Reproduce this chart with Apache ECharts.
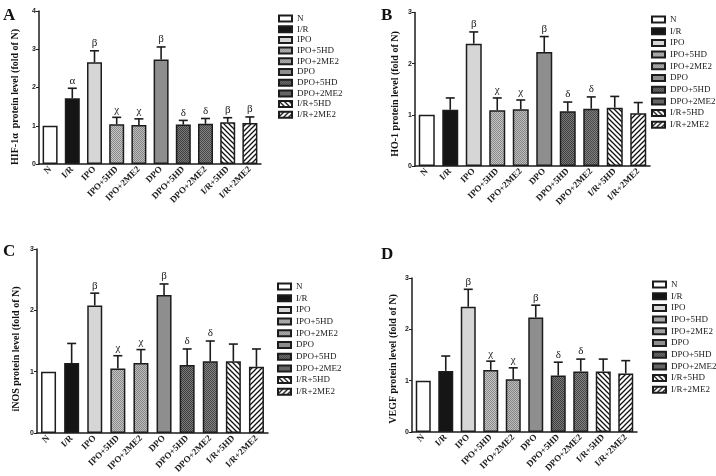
<!DOCTYPE html>
<html><head><meta charset="utf-8">
<script src="https://cdn.jsdelivr.net/npm/echarts@6/dist/echarts.min.js"></script>
<style>html,body{margin:0;padding:0;background:#fff}#c{width:716px;height:476px}</style>
</head><body><div id="c"></div>
<script>
// ---- data ----
const categories = ['N','I/R','IPO','IPO+5HD','IPO+2ME2','DPO','DPO+5HD','DPO+2ME2','I/R+5HD','I/R+2ME2'];
const hifMean   = [1.00,1.72,2.66,1.04,1.02,2.73,1.03,1.05,1.09,1.07];
const hifErrTop = [1.00,1.98,2.96,1.22,1.18,3.06,1.14,1.19,1.21,1.23];
const hoMean    = [1.00,1.10,2.39,1.09,1.11,2.23,1.07,1.12,1.14,1.03];
const hoErrTop  = [1.00,1.33,2.62,1.33,1.29,2.53,1.25,1.35,1.36,1.24];
const inosMean  = [1.00,1.14,2.08,1.05,1.14,2.25,1.11,1.17,1.17,1.08];
const inosErrTop= [1.00,1.46,2.28,1.26,1.36,2.43,1.37,1.50,1.45,1.37];
const vegfMean  = [1.00,1.19,2.44,1.21,1.03,2.23,1.10,1.18,1.18,1.14];
const vegfErrTop= [1.00,1.48,2.78,1.38,1.25,2.47,1.36,1.42,1.42,1.39];
const hifSig   = ['','α','β','χ','χ','β','δ','δ','β','β'];
const otherSig = ['','','β','χ','χ','β','δ','δ','',''];
const yMaxA = 4, yMaxOther = 3;
const yTitles = ['HIF-1α  protein level (fold of N)','HO-1 protein level (fold of N)','iNOS protein level (fold of N)','VEGF protein level (fold of N)'];
const panelLetters = ['A','B','C','D'];

// ---- styles ----
function checker(a,b){const c=document.createElement('canvas');c.width=2;c.height=2;const g=c.getContext('2d');g.fillStyle=a;g.fillRect(0,0,2,2);g.fillStyle=b;g.fillRect(0,0,1,1);g.fillRect(1,1,1,1);return {image:c,repeat:'repeat'};}
function stripes(dir){const s=5;const c=document.createElement('canvas');c.width=s;c.height=s;const g=c.getContext('2d');g.fillStyle='#fff';g.fillRect(0,0,s,s);g.strokeStyle='#111';g.lineWidth=1.3;g.beginPath();
  if(dir>0){g.moveTo(-1,s+1);g.lineTo(s+1,-1);g.moveTo(-2,2);g.lineTo(2,-2);g.moveTo(s-2,s+2);g.lineTo(s+2,s-2);}
  else{g.moveTo(-1,-1);g.lineTo(s+1,s+1);g.moveTo(s-2,-2);g.lineTo(s+2,2);g.moveTo(-2,s-2);g.lineTo(2,s+2);}
  g.stroke();return {image:c,repeat:'repeat'};}
const fills = ['#ffffff','#151515','#d6d6d6',checker('#c4c4c4','#8a8a8a'),checker('#bcbcbc','#858585'),'#8e8e8e',checker('#7a7a7a','#3e3e3e'),checker('#828282','#484848'),stripes(-1),stripes(1)];

const panels = [
  {mean:hifMean, err:hifErrTop, sig:hifSig, max:yMaxA, grid:{left:39,top:11,width:222,height:153}, bw:15, legend:{left:273,top:9,gap:1.7}, tpos:[15,97], lpos:[3,7]},
  {mean:hoMean, err:hoErrTop, sig:otherSig, max:yMaxOther, grid:{left:415,top:12.5,width:235,height:153.5}, bw:16, legend:{left:646,top:10,gap:2.7}, tpos:[395,94], lpos:[381,7]},
  {mean:inosMean, err:inosErrTop, sig:otherSig, max:yMaxOther, grid:{left:37,top:249,width:231,height:184}, bw:15, legend:{left:272,top:277,gap:2.7}, tpos:[16,349], lpos:[3,243]},
  {mean:vegfMean, err:vegfErrTop, sig:otherSig, max:yMaxOther, grid:{left:412,top:278,width:225,height:154}, bw:15, legend:{left:647,top:275,gap:2.7}, tpos:[393,359], lpos:[381,246]}
];

const ink = '#1c1c1c';
const option = {animation:false, backgroundColor:'#fff', grid:[], xAxis:[], yAxis:[], series:[], legend:[], graphic:[]};
panels.forEach((p,pi)=>{
  option.grid.push(Object.assign({containLabel:false}, p.grid));
  option.xAxis.push({gridIndex:pi, type:'category', data:categories,
    axisLine:{lineStyle:{color:ink,width:1.5}}, axisTick:{alignWithLabel:true,length:3,lineStyle:{color:ink,width:1}},
    axisLabel:{interval:0, rotate:45, fontSize:9, fontWeight:'bold', fontFamily:'Liberation Serif', color:ink, margin:4}});
  option.yAxis.push({gridIndex:pi, type:'value', min:0, max:p.max, interval:1,
    axisLine:{show:true,lineStyle:{color:ink,width:1.5}}, axisTick:{show:true,length:3,lineStyle:{color:ink,width:1}},
    axisLabel:{fontSize:7, fontWeight:'bold', fontFamily:'Liberation Sans', color:ink, margin:3}, splitLine:{show:false}});
  categories.forEach((c,ci)=>{
    option.series.push({type:'bar', name:c, xAxisIndex:pi, yAxisIndex:pi, stack:'s'+pi, barWidth:p.bw, silent:true,
      data:categories.map((_,k)=> k===ci ? p.mean[k] : '-'),
      itemStyle:{color:fills[ci], borderColor:ink, borderWidth:1.5}});
  });
  option.series.push({type:'custom', xAxisIndex:pi, yAxisIndex:pi, z:10, silent:true,
    data:categories.map((_,k)=>[k, p.mean[k], p.err[k]]),
    renderItem:(params, api)=>{
      const i = params.dataIndex;
      const b = api.coord([api.value(0), api.value(1)]);
      const t = api.coord([api.value(0), api.value(2)]);
      const ch = [];
      if (t[1] < b[1]-0.5) {
        ch.push({type:'line', shape:{x1:b[0],y1:b[1],x2:t[0],y2:t[1]}, style:{stroke:ink,lineWidth:1.6}});
        ch.push({type:'line', shape:{x1:t[0]-4.5,y1:t[1],x2:t[0]+4.5,y2:t[1]}, style:{stroke:ink,lineWidth:1.6}});
      }
      if (p.sig[i]) ch.push({type:'text', x:t[0], y:t[1]-2, style:{text:p.sig[i], fill:'#222', font:'11px "Liberation Serif"', align:'center', verticalAlign:'bottom', textAlign:'center', textVerticalAlign:'bottom'}});
      return {type:'group', children:ch};
    }});
  option.legend.push({data:categories, orient:'vertical', left:p.legend.left, top:p.legend.top, icon:'rect', itemWidth:13, itemHeight:6, itemGap:p.legend.gap, selectedMode:false,
    textStyle:{fontFamily:'Liberation Serif', fontSize:9, color:'#222', lineHeight:9}});
  option.graphic.push({type:'text', x:p.tpos[0], y:p.tpos[1], rotation:Math.PI/2,
    style:{text:yTitles[pi], font:'bold 10px "Liberation Serif"', fill:'#111', align:'center', verticalAlign:'middle', textAlign:'center', textVerticalAlign:'middle'}});
  option.graphic.push({type:'text', x:p.lpos[0], y:p.lpos[1],
    style:{text:panelLetters[pi], font:'bold 17px "Liberation Serif"', fill:'#111'}});
});
const chart = echarts.init(document.getElementById('c'), null, {renderer:'canvas'});
chart.setOption(option);
</script></body></html>
